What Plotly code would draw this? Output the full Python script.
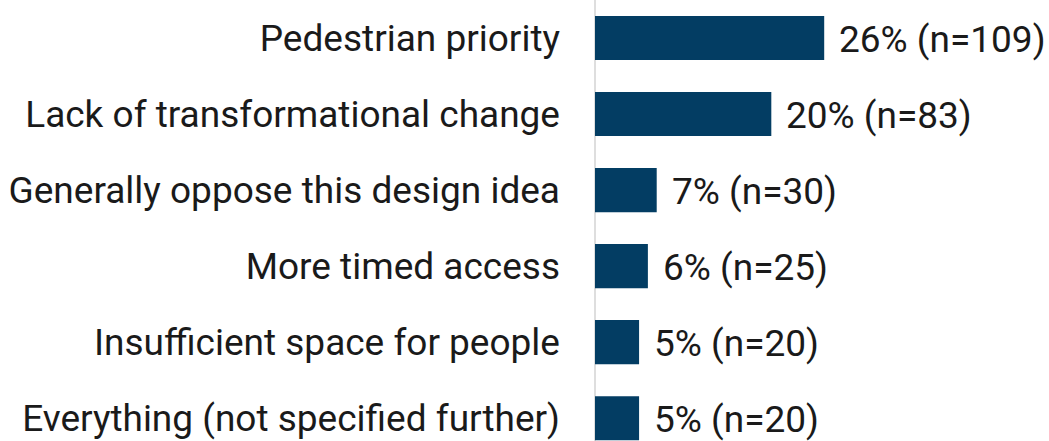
import plotly.graph_objects as go

# Reasons given, top to bottom
categories = [
    "Pedestrian priority",
    "Lack of transformational change",
    "Generally oppose this design idea",
    "More timed access",
    "Insufficient space for people",
    "Everything (not specified further)",
]
percent = [26, 20, 7, 6, 5, 5]
counts = [109, 83, 30, 25, 20, 20]

BAR_COLOR = "#033d63"
FONT = "Roboto, Arial, sans-serif"
TEXT_SIZE = 37

fig = go.Figure()
fig.add_trace(go.Bar(
    x=percent,
    y=categories,
    orientation="h",
    marker=dict(color=BAR_COLOR, line=dict(width=0)),
    hoverinfo="skip",
))

for cat, p, n in zip(categories, percent, counts):
    fig.add_annotation(
        x=p, y=cat, xref="x", yref="y",
        text=f"{p}% (n={n})",
        showarrow=False, xanchor="left", yanchor="middle",
        xshift=13, yshift=-1,
        font=dict(family=FONT, size=TEXT_SIZE, color="#1a1a1a"),
    )

fig.update_layout(
    width=1049, height=441,
    margin=dict(l=595, r=0, t=0, b=0),
    plot_bgcolor="white", paper_bgcolor="white",
    bargap=0.42,
    showlegend=False,
    font=dict(family=FONT, size=TEXT_SIZE, color="#1a1a1a"),
)
fig.update_xaxes(
    range=[0, 51.5], showgrid=False, showticklabels=False,
    zeroline=True, zerolinecolor="#dedede", zerolinewidth=2,
)
fig.update_yaxes(
    categoryorder="array", categoryarray=categories,
    range=[5.30, -0.5], showgrid=False, ticks="",
    ticklabelstandoff=34,
    tickfont=dict(family=FONT, size=TEXT_SIZE, color="#1a1a1a"),
)

fig.write_html("out.html")
